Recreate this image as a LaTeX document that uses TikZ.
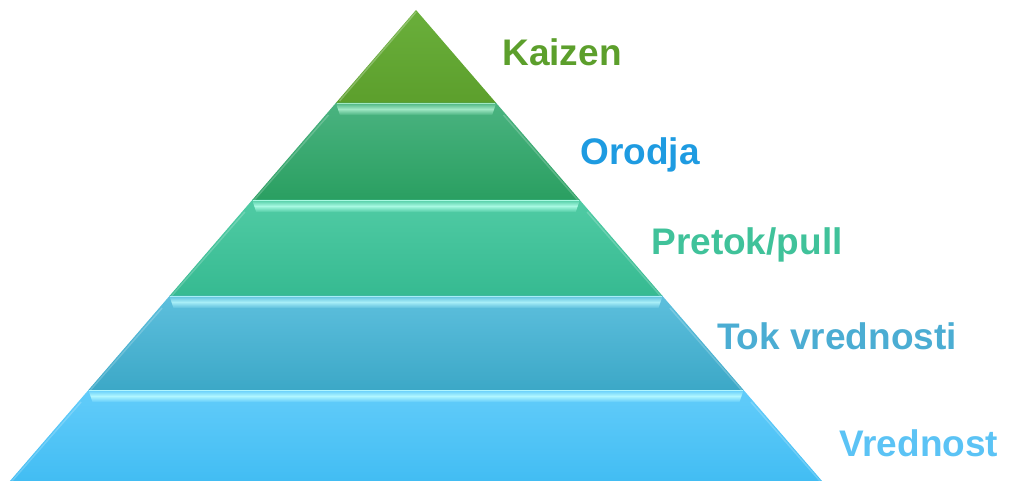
\documentclass[tikz,border=0pt]{standalone}
\usepackage{fontspec}
\setmainfont{Liberation Sans}
\begin{document}
\begin{tikzpicture}[x=1pt,y=-1pt,
  lbl/.style={font=\fontsize{37}{40}\selectfont\bfseries, anchor=base, inner sep=0pt}]
\useasboundingbox (0,0) rectangle (1010,481);
\definecolor{g1a}{HTML}{6AAF3B}\definecolor{g1b}{HTML}{5C9F2C}
\definecolor{g2a}{HTML}{4AB380}\definecolor{g2b}{HTML}{2A9F61}
\definecolor{g3a}{HTML}{50CBA4}\definecolor{g3b}{HTML}{36BA91}
\definecolor{g4a}{HTML}{5DBFDD}\definecolor{g4b}{HTML}{3CA8C7}
\definecolor{g5a}{HTML}{62CCFA}\definecolor{g5b}{HTML}{42BDF3}
\definecolor{h2}{HTML}{A0E8C4}\definecolor{h3}{HTML}{A8FAE2}
\definecolor{h4}{HTML}{A8EEF7}\definecolor{h5}{HTML}{B0F6FF}
\pgfmathsetmacro{\ax}{416}\pgfmathsetmacro{\ay}{10}\pgfmathsetmacro{\k}{0.862}
\def\XL#1{\ax-\k*(#1-\ay)}
\def\XR#1{\ax+\k*(#1-\ay)}
% layer 1
\shade[top color=g1a,bottom color=g1b] (416,10) -- ({\XR{103}},103) -- ({\XL{103}},103) -- cycle;
\draw[white,opacity=0.25,line width=1.5pt] (416,12) -- ({\XL{101}+2},101);
% layers
\foreach \t/\b/\ca/\cb/\hh in {103/200/g2a/g2b/h2,200/296/g3a/g3b/h3,296/390/g4a/g4b/h4,390/481/g5a/g5b/h5}{
  \shade[top color=\ca,bottom color=\cb] ({\XL{\t}},\t) -- ({\XR{\t}},\t) -- ({\XR{\b}},\b) -- ({\XL{\b}},\b) -- cycle;
  \shade[top color=\ca,bottom color=\ca,middle color=\hh] ({\XL{\t}},\t) -- ({\XR{\t}},\t) -- ({\XR{\t}-4},\t+12) -- ({\XL{\t}+4},\t+12) -- cycle;
  \draw[\hh,line width=1pt] ({\XL{\t}+1},\t+0.5) -- ({\XR{\t}-1},\t+0.5);
  \draw[white,opacity=0.2,line width=1.5pt] ({\XL{\t+12}+3},\t+12) -- ({\XL{\b}+2},\b);
  \draw[white,opacity=0.2,line width=1.5pt] ({\XR{\t+12}-3},\t+12) -- ({\XR{\b}-2},\b);
}
\node[lbl,text=g1b] (kaizen) at (562,66) {Kaizen};
\node[lbl,text={rgb,255:red,30;green,155;blue,225}] (orodja) at (640,165) {Orodja};
\node[lbl,text={rgb,255:red,64;green,194;blue,154}] (pretok) at (747,255) {Pretok/pull};
\node[lbl,text={rgb,255:red,75;green,173;blue,211}] (tok) at (837,349) {Tok vrednosti};
\node[lbl,text={rgb,255:red,91;green,195;blue,245}] (vred) at (919,456) {Vrednost};
\end{tikzpicture}
\end{document}
